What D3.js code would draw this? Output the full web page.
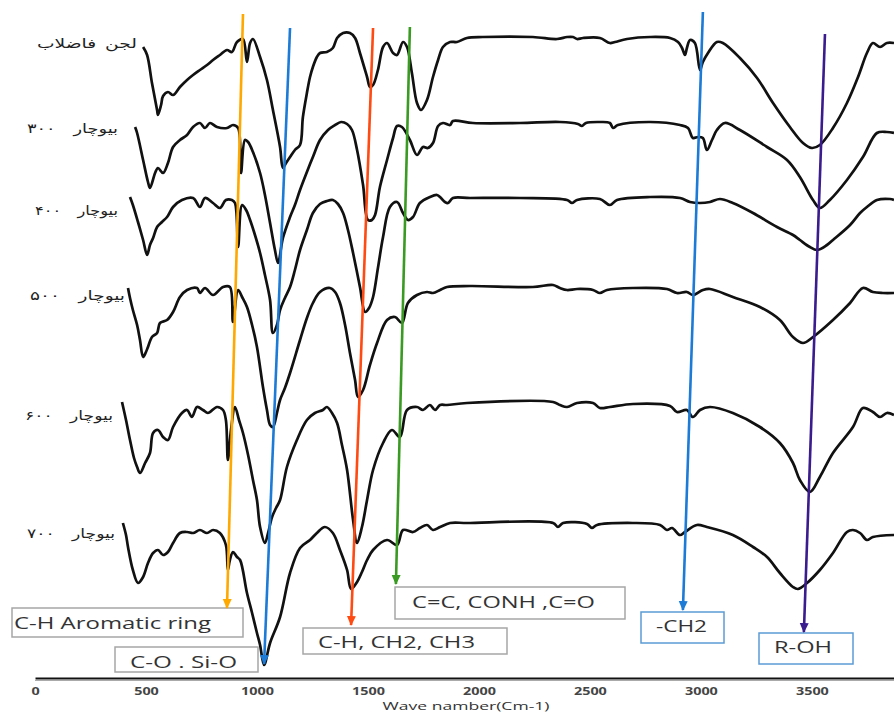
<!DOCTYPE html>
<html>
<head>
<meta charset="utf-8">
<script src="https://cdn.jsdelivr.net/npm/d3@7"></script>
<style>
  html, body { margin: 0; padding: 0; background: #fff; }
  svg { display: block; }
</style>
</head>
<body>
<div id="chart"></div>
<script>
// FTIR spectra, wavenumber (cm-1) vs stacked transmittance (arbitrary units)
var sludge = [[487,63.1],[505,62.3],[527,59.5],[550,56.8],[554,56.3],[568,57.3],[577,58.2],[599,58.6],[622,58.3],[653,59.1],[685,59.8],[712,60.3],[743,60.8],[775,61.3],[802,61.8],[833,62.3],[865,62.8],[887,62.6],[910,63.6],[937,63.9],[955,61.6],[969,63.5],[982,63.9],[1014,62.1],[1045,59.8],[1072,56.8],[1104,53.1],[1117,51.0],[1131,51.5],[1149,52.1],[1171,52.8],[1194,53.3],[1207,56.1],[1225,58.5],[1239,60.1],[1252,61.1],[1270,62.1],[1284,62.5],[1315,62.6],[1342,63.0],[1361,64.0],[1388,64.5],[1419,64.5],[1442,64.0],[1464,62.5],[1496,60.1],[1509,59.1],[1523,59.3],[1545,60.8],[1568,63.1],[1586,63.5],[1613,62.5],[1631,62.3],[1658,63.6],[1676,63.1],[1698,60.5],[1721,57.5],[1739,56.8],[1766,57.8],[1793,60.1],[1816,61.8],[1838,63.1],[1870,63.6],[1901,63.6],[1946,64.0],[2018,64.1],[2243,64.1],[2352,63.9],[2397,64.1],[2424,64.1],[2442,63.9],[2469,64.0],[2545,64.0],[2590,63.5],[2613,63.6],[2667,63.9],[2771,64.1],[2861,64.0],[2897,63.6],[2915,63.0],[2928,62.3],[2937,63.0],[2951,63.8],[2973,63.5],[2996,60.8],[3009,61.6],[3032,62.5],[3072,63.6],[3099,63.5],[3176,62.0],[3253,60.0],[3325,57.5],[3401,55.1],[3460,53.5],[3500,53.0],[3536,53.3],[3595,55.0],[3658,57.5],[3708,60.1],[3748,62.5],[3775,63.5],[3807,63.1],[3838,63.5],[3870,63.5]];

var biochar300 = [[451,55.1],[460,54.5],[487,51.8],[509,49.6],[518,49.0],[541,50.5],[554,51.0],[577,50.5],[599,51.5],[622,53.1],[653,53.8],[685,54.3],[712,55.1],[743,55.5],[766,55.0],[788,55.5],[820,55.1],[865,55.0],[892,55.3],[915,55.0],[928,50.5],[946,53.8],[960,53.6],[982,52.6],[1014,50.5],[1036,48.3],[1059,45.5],[1081,42.8],[1095,41.5],[1117,44.0],[1149,46.1],[1171,47.3],[1194,48.8],[1225,50.6],[1252,52.1],[1284,53.8],[1320,54.8],[1352,55.3],[1379,55.6],[1406,55.4],[1428,54.8],[1451,52.8],[1478,49.3],[1500,45.8],[1518,45.8],[1532,46.3],[1554,49.1],[1586,51.8],[1613,54.0],[1631,55.2],[1653,55.1],[1689,53.8],[1721,52.3],[1748,53.1],[1770,53.0],[1793,53.5],[1816,55.2],[1838,55.5],[1870,55.3],[1883,55.7],[1973,55.5],[2185,55.5],[2365,55.6],[2446,55.4],[2464,55.2],[2482,55.5],[2545,55.6],[2590,55.5],[2604,55.0],[2626,55.3],[2771,55.6],[2906,55.3],[2942,55.0],[2964,54.0],[2987,54.1],[3009,54.0],[3027,52.8],[3050,53.8],[3072,54.8],[3108,55.5],[3176,54.8],[3298,53.1],[3388,51.8],[3446,50.1],[3505,47.8],[3536,47.0],[3581,47.8],[3658,49.8],[3730,52.1],[3793,54.5],[3838,54.6],[3870,54.5]];

var biochar400 = [[428,48.1],[441,47.3],[464,45.6],[487,43.8],[505,42.3],[518,43.3],[532,44.0],[550,45.1],[572,45.6],[595,46.1],[622,47.1],[662,47.8],[712,48.0],[743,47.1],[766,48.0],[802,47.5],[833,47.0],[860,47.8],[887,47.8],[901,47.5],[915,43.1],[933,47.3],[951,46.8],[969,45.8],[991,44.3],[1014,42.5],[1036,40.3],[1059,37.8],[1072,34.5],[1090,35.3],[1104,36.8],[1126,38.0],[1149,39.1],[1171,40.8],[1194,42.8],[1225,44.8],[1252,46.5],[1284,47.4],[1315,47.7],[1342,47.8],[1365,47.4],[1388,46.5],[1410,44.8],[1433,42.5],[1464,39.1],[1487,36.6],[1505,37.0],[1523,38.1],[1545,41.0],[1568,44.1],[1599,47.1],[1631,47.6],[1658,46.5],[1680,45.8],[1703,46.1],[1734,47.5],[1779,48.1],[1811,48.3],[1829,48.0],[1847,47.6],[1861,47.5],[1883,48.0],[1960,48.0],[2185,48.0],[2397,47.8],[2419,47.5],[2442,47.8],[2545,47.9],[2590,47.3],[2622,47.8],[2771,48.1],[2906,48.0],[2951,47.6],[2996,47.5],[3041,47.6],[3086,47.9],[3144,47.5],[3235,46.5],[3343,45.1],[3415,44.3],[3446,43.8],[3491,43.1],[3523,42.8],[3568,43.3],[3595,43.8],[3672,45.3],[3717,46.5],[3748,47.1],[3793,47.8],[3852,47.9],[3870,47.8]];

var biochar500 = [[419,39.0],[428,38.0],[441,36.8],[460,35.3],[473,33.8],[487,32.1],[500,32.6],[509,33.1],[527,34.1],[550,34.5],[563,35.5],[595,35.8],[622,36.6],[653,38.1],[685,38.8],[730,39.0],[743,38.5],[766,39.0],[802,38.3],[847,39.1],[878,39.1],[892,35.6],[915,38.8],[933,38.1],[955,37.1],[978,35.3],[1000,33.1],[1027,29.1],[1045,26.8],[1059,25.3],[1072,25.1],[1090,26.5],[1104,27.8],[1126,29.0],[1149,30.5],[1194,33.8],[1225,36.0],[1252,37.5],[1284,38.6],[1329,39.0],[1352,38.6],[1374,37.5],[1397,35.3],[1419,32.5],[1442,29.8],[1455,28.1],[1478,28.8],[1509,31.3],[1541,33.5],[1586,35.8],[1622,36.1],[1653,35.5],[1680,37.5],[1721,38.3],[1766,38.6],[1793,38.5],[1825,38.8],[1856,39.1],[1960,39.2],[2243,39.1],[2334,39.3],[2365,39.0],[2397,38.8],[2442,38.9],[2514,38.8],[2545,38.5],[2577,38.8],[2694,39.0],[2847,38.9],[2892,38.5],[2937,38.6],[2964,38.3],[3009,38.8],[3041,38.9],[3144,38.1],[3266,37.1],[3356,35.8],[3415,34.1],[3460,33.5],[3505,34.1],[3595,35.8],[3672,37.5],[3730,39.0],[3775,38.6],[3820,38.5],[3870,38.5]];

var biochar600 = [[392,27.6],[410,25.8],[428,23.8],[446,22.0],[460,21.1],[473,20.5],[496,21.5],[518,22.5],[532,24.5],[554,24.8],[577,24.1],[599,23.8],[622,25.1],[662,26.5],[685,26.8],[707,26.1],[730,27.1],[757,26.8],[779,26.5],[820,27.1],[847,26.8],[860,25.8],[869,21.8],[883,24.8],[901,27.1],[919,25.8],[937,24.5],[960,22.3],[982,19.8],[1000,17.8],[1014,15.1],[1036,13.5],[1050,14.5],[1068,16.1],[1086,17.0],[1104,17.8],[1135,21.1],[1180,23.8],[1225,25.8],[1261,26.5],[1297,26.8],[1315,27.1],[1338,26.5],[1361,25.5],[1383,23.3],[1406,20.8],[1433,15.8],[1451,13.5],[1473,15.1],[1496,17.8],[1523,20.8],[1568,23.5],[1608,24.8],[1644,24.1],[1676,26.8],[1721,27.1],[1748,26.8],[1779,27.3],[1802,26.8],[1825,27.3],[1856,27.3],[1946,27.5],[2334,27.6],[2365,27.3],[2397,27.1],[2442,27.5],[2514,27.5],[2545,27.0],[2590,27.1],[2694,27.4],[2861,27.2],[2892,26.6],[2937,26.8],[2964,26.1],[2996,26.8],[3041,27.1],[3144,26.5],[3266,25.1],[3356,23.5],[3415,21.5],[3446,19.8],[3491,18.6],[3536,20.1],[3595,22.5],[3685,25.1],[3730,27.0],[3775,26.6],[3807,26.1],[3838,26.5],[3870,26.3]];

var biochar700 = [[396,15.5],[410,14.3],[419,13.1],[441,10.8],[464,9.5],[487,10.1],[509,11.5],[532,12.5],[554,12.8],[577,12.3],[599,12.6],[622,13.5],[653,14.5],[685,14.6],[712,14.5],[743,14.8],[775,14.5],[802,14.8],[833,14.5],[860,13.3],[869,10.8],[878,11.8],[892,12.6],[910,12.1],[924,11.8],[955,8.5],[978,6.5],[1000,4.5],[1014,3.3],[1032,1.3],[1059,3.5],[1104,6.1],[1149,10.5],[1194,13.0],[1239,13.8],[1270,14.5],[1306,15.1],[1342,14.5],[1374,12.8],[1406,10.8],[1424,8.9],[1451,9.6],[1473,10.6],[1496,11.8],[1523,12.8],[1586,13.8],[1631,13.3],[1658,14.8],[1703,14.6],[1734,15.0],[1766,15.3],[1793,14.8],[1825,15.1],[1870,15.5],[1946,15.5],[2334,15.5],[2356,15.1],[2379,15.5],[2487,15.4],[2509,15.0],[2532,15.3],[2694,15.5],[2816,15.3],[2847,14.8],[2870,15.0],[2906,14.3],[2928,14.6],[2982,15.3],[3027,15.1],[3144,14.3],[3235,13.1],[3298,12.1],[3356,10.5],[3415,9.1],[3437,8.9],[3478,9.5],[3536,10.8],[3595,12.5],[3658,14.6],[3685,14.8],[3717,14.5],[3748,13.8],[3775,14.1],[3870,14.3]];

var seriesNames = ['لجن فاضلاب', 'بیوچار ۳۰۰', 'بیوچار ۴۰۰', 'بیوچار ۵۰۰', 'بیوچار ۶۰۰', 'بیوچار ۷۰۰'];
var tickValues = [0, 500, 1000, 1500, 2000, 2500, 3000, 3500];
var axisTitle = 'Wave namber(Cm-1)';

// band assignments: label, line top, arrow tip (wavenumber, value)
var bandLabels = ['C-H Aromatic ring', 'C-O . Si-O', 'C-H, CH2, CH3', 'C=C, CONH ,C=O', '-CH2', 'R-OH'];
var bandTop = [[937,66.4],[1149,65.0],[1523,65.0],[1689,65.1],[3009,66.6],[3559,64.4]];
var bandTip = [[865,7.0],[1032,1.4],[1424,5.3],[1626,9.4],[2919,6.8],[3464,4.6]];

var width = 894, height = 715;

var x = d3.scaleLinear().domain([0, 3870]).range([35, 894]);
var y = d3.scaleLinear().domain([0, 67]).range([678, 8]);

var svg = d3.select('#chart').append('svg')
    .attr('width', width)
    .attr('height', height);

// label layout (pixels)
var labelLayout = [
    {right: 137, cy: 43, len: 100, gap: 2},
    {right: 118, cy: 128, len: 91, gap: 9},
    {right: 118, cy: 210, len: 83, gap: 9},
    {right: 125, cy: 295, len: 95, gap: 9},
    {right: 113, cy: 415, len: 88, gap: 9},
    {right: 115, cy: 533, len: 88, gap: 9}
];
var bandColors = ['#FFA800', '#1B7BD6', '#FF4A12', '#3A9B22', '#1B7BD6', '#3A1C8E'];
var boxLayout = [
    {x: 12, y: 608, w: 231, h: 29, stroke: '#a6a6a6', tx: 14, ty: 629, tl: 197},
    {x: 115, y: 647, w: 143, h: 25, stroke: '#a6a6a6', tx: 130, ty: 668, tl: 107},
    {x: 303, y: 628, w: 204, h: 26, stroke: '#a6a6a6', tx: 318, ty: 648, tl: 157},
    {x: 395, y: 587, w: 230, h: 32, stroke: '#a6a6a6', tx: 412, ty: 608, tl: 183},
    {x: 641, y: 612, w: 83, h: 31, stroke: '#5B9BD5', tx: 656, ty: 632, tl: 51},
    {x: 759, y: 633, w: 94, h: 31, stroke: '#5B9BD5', tx: 774, ty: 653, tl: 58}
];

// axis
var axis = d3.axisBottom(x).tickValues(tickValues).tickFormat(d3.format('d')).tickSize(0).tickPadding(10);
var gx = svg.append('g')
    .attr('transform', 'translate(0,' + y(0) + ')')
    .call(axis);
gx.select('.domain').attr('stroke', '#111').attr('stroke-width', 2.2);
gx.selectAll('.tick text')
    .attr('font-family', 'Open Sans, sans-serif')
    .attr('font-weight', 'bold')
    .attr('font-size', '10.5px')
    .attr('fill', '#444')
    .attr('textLength', function(d) { return String(d).length * 8.2; })
    .attr('lengthAdjust', 'spacingAndGlyphs');
svg.append('line')
    .attr('x1', x(0)).attr('x2', width)
    .attr('y1', y(0) + 2.5).attr('y2', y(0) + 2.5)
    .attr('stroke', '#aaa').attr('stroke-width', 1);

svg.append('text')
    .attr('x', 466).attr('y', 710)
    .attr('text-anchor', 'middle')
    .attr('font-family', 'Open Sans, sans-serif')
    .attr('font-size', '11.5px')
    .attr('fill', '#333')
    .attr('textLength', 167)
    .attr('lengthAdjust', 'spacingAndGlyphs')
    .text(axisTitle);

// spectra
var line = d3.line()
    .x(function(d) { return x(d[0]); })
    .y(function(d) { return y(d[1]); })
    .curve(d3.curveCatmullRom.alpha(0.5));

var spectra = [sludge, biochar300, biochar400, biochar500, biochar600, biochar700];
svg.append('g').selectAll('path')
    .data(spectra)
    .join('path')
    .attr('d', line)
    .attr('fill', 'none')
    .attr('stroke', '#111')
    .attr('stroke-width', 2.7)
    .attr('stroke-linejoin', 'round');

svg.append('g').selectAll('text')
    .data(seriesNames)
    .join('text')
    .attr('x', function(d, i) { return labelLayout[i].right; })
    .attr('y', function(d, i) { return labelLayout[i].cy + 5; })
    .attr('text-anchor', 'end')
    .attr('font-family', 'DejaVu Sans, sans-serif')
    .attr('font-size', '13px')
    .attr('word-spacing', function(d, i) { return labelLayout[i].gap + 'px'; })
    .attr('fill', '#222')
    .attr('textLength', function(d, i) { return labelLayout[i].len; })
    .attr('lengthAdjust', 'spacingAndGlyphs')
    .text(function(d) { return d; });

// boxes
var boxes = svg.append('g').selectAll('g')
    .data(bandLabels)
    .join('g');
boxes.append('rect')
    .attr('x', function(d, i) { return boxLayout[i].x; })
    .attr('y', function(d, i) { return boxLayout[i].y; })
    .attr('width', function(d, i) { return boxLayout[i].w; })
    .attr('height', function(d, i) { return boxLayout[i].h; })
    .attr('fill', '#fff')
    .attr('stroke', function(d, i) { return boxLayout[i].stroke; })
    .attr('stroke-width', 1.5);
boxes.append('text')
    .attr('x', function(d, i) { return boxLayout[i].tx; })
    .attr('y', function(d, i) { return boxLayout[i].ty; })
    .attr('font-family', 'Open Sans, sans-serif')
    .attr('font-size', '16px')
    .attr('fill', '#333')
    .attr('textLength', function(d, i) { return boxLayout[i].tl; })
    .attr('lengthAdjust', 'spacingAndGlyphs')
    .text(function(d) { return d; });

// arrow markers and lines
var defs = svg.append('defs');
bandColors.forEach(function(c, i) {
    defs.append('marker')
        .attr('id', 'arrow' + i)
        .attr('viewBox', '0 -5 10 10')
        .attr('refX', 9)
        .attr('refY', 0)
        .attr('markerUnits', 'userSpaceOnUse')
        .attr('markerWidth', 10)
        .attr('markerHeight', 10)
        .attr('orient', 'auto')
        .append('path')
        .attr('d', 'M0,-4.5L10,0L0,4.5Z')
        .attr('fill', c);
});

svg.append('g').selectAll('line')
    .data(bandTop)
    .join('line')
    .attr('x1', function(d) { return x(d[0]); })
    .attr('y1', function(d) { return y(d[1]); })
    .attr('x2', function(d, i) { return x(bandTip[i][0]); })
    .attr('y2', function(d, i) { return y(bandTip[i][1]); })
    .attr('stroke', function(d, i) { return bandColors[i]; })
    .attr('stroke-width', 2.6)
    .attr('marker-end', function(d, i) { return 'url(#arrow' + i + ')'; });
</script>
</body>
</html>
